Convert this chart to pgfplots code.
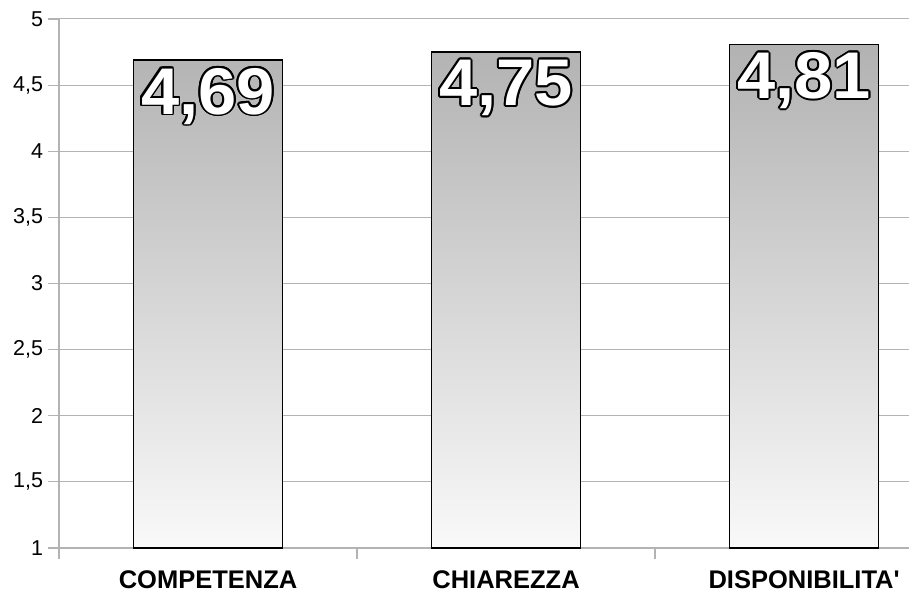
\documentclass[border=0pt]{standalone}
\usepackage{pgfplots}
\pgfplotsset{compat=1.18}
\usepackage{fontspec}
\setmainfont{Liberation Sans}
\usepackage{contour}
\contourlength{1.7bp}
\definecolor{gridgray}{RGB}{179,179,179}
\definecolor{bartop}{RGB}{178,178,178}
\definecolor{barbot}{RGB}{249,249,249}
\begin{document}
\begin{tikzpicture}
\useasboundingbox (-59bp,-45bp) rectangle (850bp,548bp);
\begin{axis}[
  at={(0,0)}, anchor=south west,
  scale only axis, width=850bp, height=529bp,
  xmin=-0.5, xmax=2.352, ymin=1, ymax=5,
  y coord trafo/.code={\pgfmathparse{#1-1}},
  y coord inv trafo/.code={\pgfmathparse{#1+1}},
  clip=false,
  axis x line*=bottom, axis y line*=left,
  axis line style={-, draw=gridgray, line width=1.2bp},
  ymajorgrids, major grid style={draw=gridgray, line width=1bp},
  tick align=outside, major tick length=11bp,
  tick style={draw=gridgray, line width=1.2bp},
  ytick={1,1.5,2,2.5,3,3.5,4,4.5,5},
  /pgf/number format/assume math mode=true,
  /pgf/number format/use comma,
  yticklabel style={font=\fontsize{21.5bp}{22bp}\selectfont, xshift=-1.5bp},
  xtick={-0.5,0.5,1.5}, xticklabels={},
  extra x ticks={0,1,2},
  extra x tick labels={COMPETENZA,CHIAREZZA,DISPONIBILITA\textquotesingle},
  extra x tick style={major tick length=0pt, xmajorgrids=false,
    xticklabel style={font=\fontsize{25.5bp}{26bp}\selectfont\bfseries, anchor=base, yshift=-40.5bp, text depth=0pt}},
  bar width=0.5,
  point meta=rawy,
  nodes near coords={\scalebox{1.04}[1]{\contour{black}{\pgfmathprintnumber[fixed,precision=2,use comma]{\pgfplotspointmeta}}}},
  every node near coord/.append style={anchor=north, inner sep=0pt, yshift=-7.5bp,
    font=\fontsize{66bp}{66bp}\selectfont\bfseries, text=white},
]
\addplot[ybar, draw=black, line width=1.2bp, top color=bartop, bottom color=barbot]
  coordinates {(0,4.69) (1,4.75) (2,4.81)};
\end{axis}
\end{tikzpicture}
\end{document}
